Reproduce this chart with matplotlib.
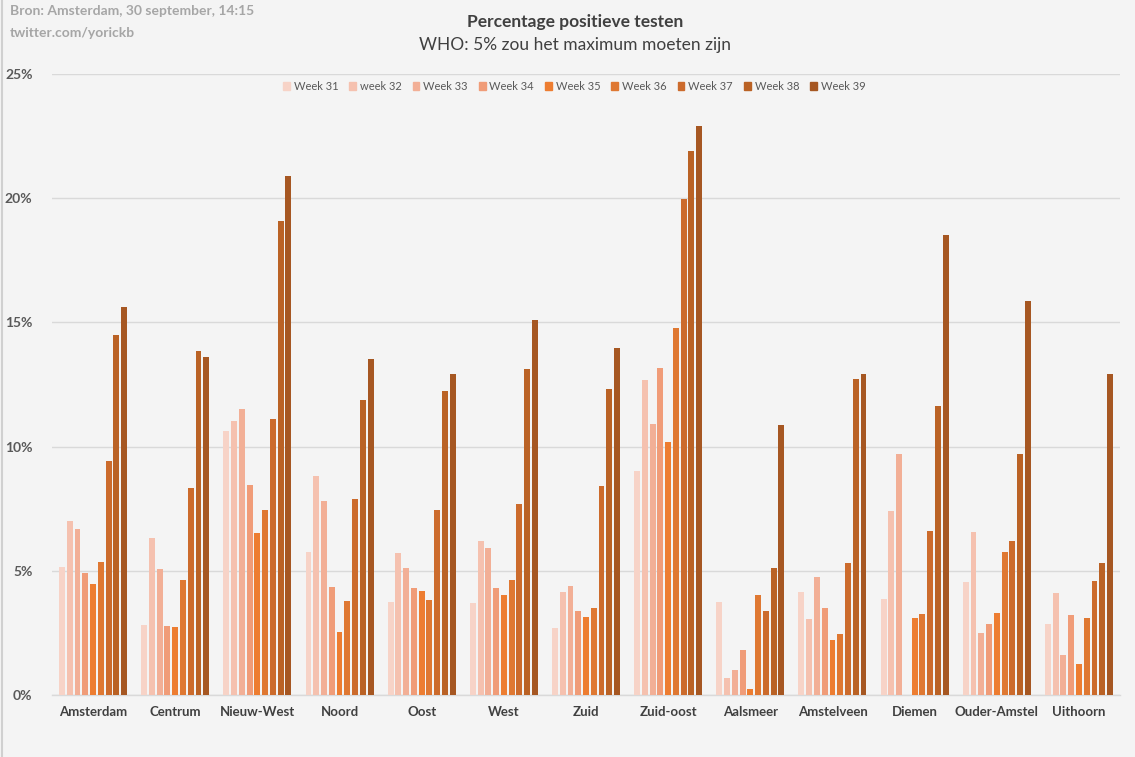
import numpy as np
import matplotlib
matplotlib.use("Agg")
import matplotlib.pyplot as plt
from matplotlib.patches import Rectangle

plt.rcParams['font.family'] = ['Lato', 'DejaVu Sans']

categories = ["Amsterdam", "Centrum", "Nieuw-West", "Noord", "Oost", "West", "Zuid",
              "Zuid-oost", "Aalsmeer", "Amstelveen", "Diemen", "Ouder-Amstel", "Uithoorn"]
series_names = ["Week 31", "week 32", "Week 33", "Week 34", "Week 35", "Week 36",
                "Week 37", "Week 38", "Week 39"]

week31 = [5.17, 2.80, 10.62, 5.74, 3.76, 3.72, 2.70, 9.01, 3.76, 4.13, 3.88, 4.53, 2.84]
week32 = [6.99, 6.34, 11.02, 8.80, 5.70, 6.18, 4.16, 12.67, 0.70, 3.04, 7.39, 6.55, 4.09]
week33 = [6.67, 5.09, 11.51, 7.80, 5.13, 5.90, 4.40, 10.93, 1.02, 4.77, 9.69, 2.51, 1.63]
week34 = [4.93, 2.76, 8.44, 4.33, 4.29, 4.29, 3.39, 13.15, 1.83, 3.52, np.nan, 2.84, 3.24]
week35 = [4.45, 2.72, 6.51, 2.55, 4.17, 4.01, 3.14, 10.17, 0.26, 2.23, 3.12, 3.32, 1.26]
week36 = [5.34, 4.61, 7.43, 3.80, 3.84, 4.65, 3.51, 14.78, 4.01, 2.47, 3.28, 5.74, 3.12]
week37 = [9.41, 8.32, 11.10, 7.88, 7.43, 7.67, 8.43, 19.97, 3.40, 5.30, 6.59, 6.18, 4.57]
week38 = [14.49, 13.84, 19.08, 11.87, 12.23, 13.12, 12.30, 21.91, 5.13, 12.72, 11.63, 9.69, 5.30]
week39 = [15.62, 13.60, 20.89, 13.52, 12.92, 15.09, 13.96, 22.89, 10.86, 12.92, 18.52, 15.86, 12.92]

series = [week31, week32, week33, week34, week35, week36, week37, week38, week39]
colors = ["#F7D3C7", "#F5C1AF", "#F2AF96", "#F09C78", "#ED7D31",
          "#DF7832", "#CC6B2C", "#BA6225", "#A65722"]

BG = "#F4F4F4"
fig = plt.figure(figsize=(11.35, 7.57), dpi=100, facecolor=BG)
ax = fig.add_axes([0.0458, 0.0819, 0.9410, 0.8203], facecolor=BG)

n = len(series)
slot = 0.0945
width = 0.072
x = np.arange(len(categories))
for i, (vals, c) in enumerate(zip(series, colors)):
    offs = (i - (n - 1) / 2) * slot
    ax.bar(x + offs, vals, width=width, color=c, zorder=3, linewidth=0)

ax.set_xlim(-0.5, len(categories) - 0.5)
ax.set_ylim(0, 25)
ax.set_yticks([0, 5, 10, 15, 20, 25])
ax.set_yticklabels([f"{v}%" for v in [0, 5, 10, 15, 20, 25]],
                   fontsize=10, fontweight='bold', color="#595959")
ax.grid(axis='y', color="#D9D9D9", linewidth=1, zorder=0)
ax.set_xticks(x)
ax.set_xticklabels(categories, fontsize=9.5, fontweight='bold', color="#404040")
ax.tick_params(axis='both', length=0)
ax.tick_params(axis='x', pad=8)
ax.tick_params(axis='y', pad=14)
for s in ['top', 'right', 'left']:
    ax.spines[s].set_visible(False)
ax.spines['bottom'].set_color("#D9D9D9")
ax.spines['bottom'].set_linewidth(1)

handles = [Rectangle((0, 0), 1, 1, color=c) for c in colors]
leg = ax.legend(handles, series_names, loc='upper center', bbox_to_anchor=(0.489, 1.005),
                ncol=9, frameon=False, fontsize=8, handlelength=0.6, handleheight=0.6,
                handletextpad=0.35, columnspacing=1.0, labelcolor="#595959")

fig.text(0.5068, 1 - 22 / 757, "Percentage positieve testen", ha='center', va='center',
         fontsize=12.5, fontweight='bold', color="#404040")
fig.text(0.5068, 1 - 45 / 757, "WHO: 5% zou het maximum moeten zijn", ha='center', va='center',
         fontsize=12.5, color="#404040")
fig.text(10 / 1135, 1 - 11 / 757, "Bron: Amsterdam, 30 september, 14:15", ha='left', va='center',
         fontsize=10, fontweight='bold', color="#A6A6A6")
fig.text(10 / 1135, 1 - 33 / 757, "twitter.com/yorickb", ha='left', va='center',
         fontsize=10, fontweight='bold', color="#A6A6A6")

fig.add_artist(plt.Line2D([1.5 / 1135, 1.5 / 1135], [0, 1], color="#D0D0D0", linewidth=1.5))

fig.savefig("out.png", dpi=100, facecolor=BG)
